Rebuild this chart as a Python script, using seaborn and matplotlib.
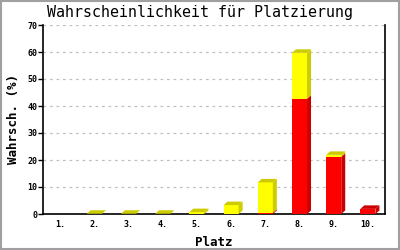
import numpy as np
import pandas as pd
import matplotlib
matplotlib.use("Agg")
import matplotlib.pyplot as plt
import seaborn as sns
from matplotlib.patches import Polygon, Rectangle
from matplotlib.transforms import IdentityTransform

places = ["1.", "2.", "3.", "4.", "5.", "6.", "7.", "8.", "9.", "10."]
red_vals = [0, 0, 0, 0, 0, 0, 0.4, 42.6, 21.1, 1.9]
yellow_vals = [0, 0.1, 0.1, 0.1, 0.7, 3.3, 11.3, 17.1, 0.8, 0]
yticks = [0, 10, 20, 30, 40, 50, 60, 70]

title = "Wahrscheinlichkeit für Platzierung"
xlabel = "Platz"
ylabel = "Wahrsch. (%)"

sns.set_theme(style="white")
plt.rcParams["font.family"] = ["DejaVu Sans Mono", "Liberation Mono"]
plt.rcParams["text.color"] = "black"
plt.rcParams["axes.labelcolor"] = "black"
plt.rcParams["xtick.color"] = "black"
plt.rcParams["ytick.color"] = "black"

df = pd.DataFrame({"place": places, "red": red_vals, "yellow": yellow_vals})
df["total"] = df["red"] + df["yellow"]

fig = plt.figure(figsize=(4, 2.5), dpi=100)
ax = fig.add_axes([43 / 400, 36 / 250, 342 / 400, 189 / 250])

RED, RED_D = "#FF0000", "#CC0000"
YEL, YEL_D = "#FFFF00", "#CCCC00"

sns.barplot(data=df, x="place", y="total", color=YEL, saturation=1, width=0.44,
            linewidth=0, ax=ax, zorder=3)
n_tot = len(ax.patches)
sns.barplot(data=df, x="place", y="red", color=RED, saturation=1, width=0.44,
            linewidth=0, ax=ax, zorder=4)

ax.set_ylim(0, 70)
ax.set_xlim(-0.5, len(places) - 0.5)
ax.set_yticks(yticks)
ax.set_yticklabels([str(v) for v in yticks])

for v in yticks[1:]:
    ax.axhline(v, color="#C0C0C0", lw=0.9, ls=(0, (2.2, 3)), zorder=1)

for s in ["left", "bottom", "right"]:
    ax.spines[s].set_visible(True)
    ax.spines[s].set_color("black")
    ax.spines[s].set_linewidth(1.2)
ax.spines["top"].set_visible(False)

ax.tick_params(axis="y", left=True, length=3.6, width=1, color="black", pad=0.5,
               labelsize=6, labelcolor="black")
ax.tick_params(axis="x", bottom=False, length=0, pad=4, labelsize=6, labelcolor="black")
for lab in ax.get_xticklabels() + ax.get_yticklabels():
    lab.set_fontweight("bold")

ax.set_xlabel(xlabel, fontsize=9, fontweight="bold", labelpad=5, color="black")
ax.set_ylabel(ylabel, fontsize=9, fontweight="bold", labelpad=5, color="black")
fig.text(0.5, 1 - 13 / 250, title, ha="center", va="center", fontsize=10.8,
         color="black")

# 3D effect derived from the bars
fig.canvas.draw()
dx, dy = 4, 3.5
tot_patches = ax.patches[:n_tot]
red_patches = ax.patches[n_tot:n_tot + len(places)]
for pt, pr, r, t in zip(tot_patches, red_patches, red_vals, df["total"]):
    if t <= 0:
        continue
    xl = pt.get_x()
    xr = xl + pt.get_width()
    (X0, Y0) = ax.transData.transform((xl, 0))
    (X1, Yr) = ax.transData.transform((xr, r))
    (_, Yt) = ax.transData.transform((xr, t))
    top_col = YEL_D if t > r else RED_D
    polys = []
    if Yt > Yr:
        polys.append(([(X1, Yr), (X1 + dx, Yr + dy), (X1 + dx, Yt + dy), (X1, Yt)], YEL_D))
    if r > 0:
        polys.append(([(X1, Y0), (X1 + dx, Y0 + dy), (X1 + dx, Yr + dy), (X1, Yr)], RED_D))
    polys.append(([(X0, Yt), (X0 + dx, Yt + dy), (X1 + dx, Yt + dy), (X1, Yt)], top_col))
    for pts, col in polys:
        fig.patches.append(Polygon(pts, closed=True, facecolor=col, edgecolor="none",
                                   transform=IdentityTransform(), figure=fig, zorder=5))

fig.patches.append(Rectangle((0.0025, 0.004), 0.995, 0.992, transform=fig.transFigure,
                             fill=False, edgecolor="#A0A0A0", lw=1.5, figure=fig))

fig.savefig("out.png", dpi=100)
